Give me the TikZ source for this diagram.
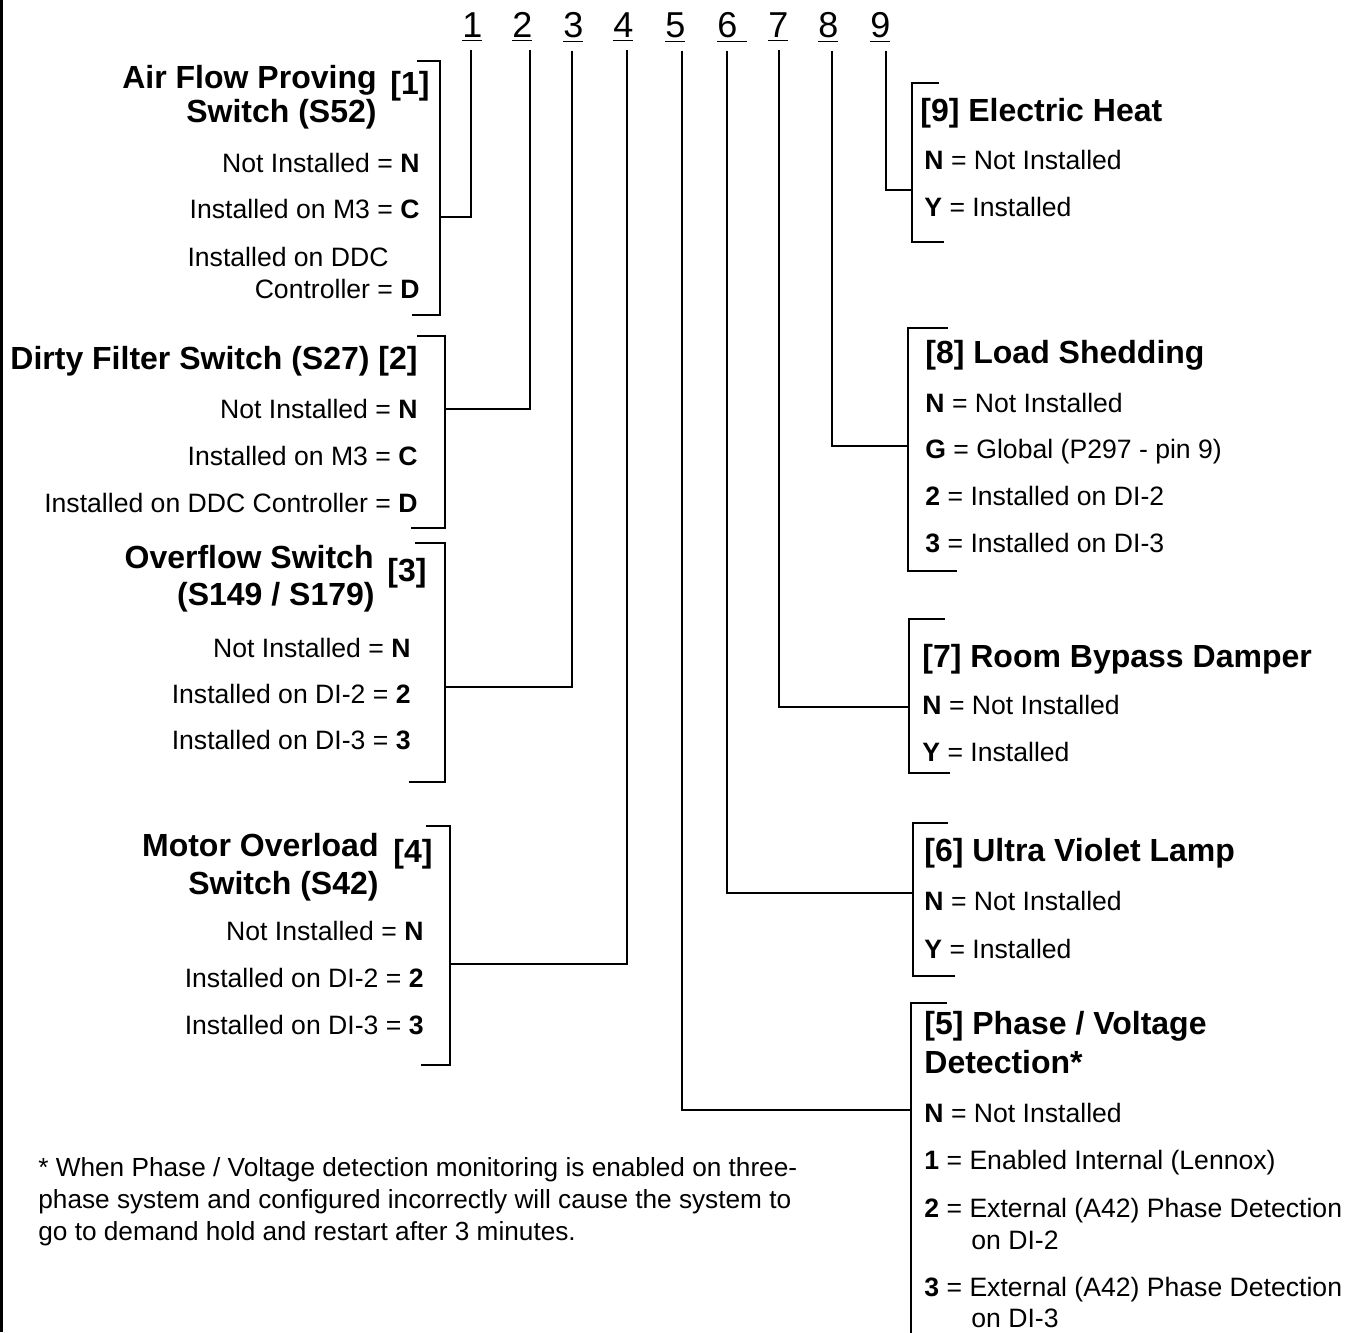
\documentclass[tikz,border=0pt]{standalone}
\usepackage{fontspec}
\setmainfont{Liberation Sans}
\tikzset{
  wire/.style={line width=1pt},
  digit/.style={font=\fontsize{18}{20}\selectfont, inner sep=0pt},
  heading/.style={font=\fontsize{16}{19}\selectfont\bfseries, inner sep=0pt},
  item/.style={font=\fontsize{13.3}{16}\selectfont, inner sep=0pt},
  note/.style={font=\fontsize{13.1}{16}\selectfont, inner sep=0pt},
}
\begin{document}
\begin{tikzpicture}[x=0.5pt,y=-0.5pt]
\useasboundingbox (0,0) rectangle (1358,1332);
\draw[line width=1.3pt] (1.5,0) -- (1.5,1332);

% model number positions
\foreach \n/\x in {1/462,2/512,3/563,4/613,5/665,7/768,8/818,9/870}
  \node[digit,anchor=base west] (d\n) at (\x,38) {\underline{\n}};
\node[digit,anchor=base west] (d6) at (717,38) {\underline{6\kern5pt}};

% [1] air flow
\node[heading,anchor=base east] (h1a) at (377,89) {Air Flow Proving};
\node[heading,anchor=base east] (h1b) at (377,123) {Switch (S52)};
\node[heading,anchor=base east] (tag1) at (430,95) {[1]};
\node[item,anchor=base east] (s1n) at (420,173) {Not Installed = \textbf{N}};
\node[item,anchor=base east] (s1c) at (420,219) {Installed on M3 = \textbf{C}};
\node[item,anchor=base east] (s1d) at (389,266) {Installed on DDC};
\node[item,anchor=base east] (s1e) at (420,298) {Controller = \textbf{D}};
\draw[wire] (417,61) -- (440,61) -- (440,315) -- (412,315);
\coordinate (j1) at (440,217);

% [2] dirty filter
\node[heading,anchor=base east] (h2) at (418,369) {Dirty Filter Switch (S27) [2]};
\node[item,anchor=base east] (s2n) at (418,418) {Not Installed = \textbf{N}};
\node[item,anchor=base east] (s2c) at (418,465) {Installed on M3 = \textbf{C}};
\node[item,anchor=base east] (s2d) at (418,512) {Installed on DDC Controller = \textbf{D}};
\draw[wire] (417,336) -- (445,336) -- (445,528) -- (411,528);
\coordinate (j2) at (445,409);

% [3] overflow
\node[heading,anchor=base east] (h3a) at (374,568) {Overflow Switch};
\node[heading,anchor=base east] (h3b) at (375,605) {(S149 / S179)};
\node[heading,anchor=base east] (tag3) at (427,581) {[3]};
\node[item,anchor=base east] (s3n) at (411,657) {Not Installed = \textbf{N}};
\node[item,anchor=base east] (s3b) at (411,703) {Installed on DI-2 = \textbf{2}};
\node[item,anchor=base east] (s3c) at (411,749) {Installed on DI-3 = \textbf{3}};
\draw[wire] (415,543) -- (445,543) -- (445,782) -- (409,782);
\coordinate (j3) at (445,687);

% [4] motor overload
\node[heading,anchor=base east] (h4a) at (379,856) {Motor Overload};
\node[heading,anchor=base east] (h4b) at (379,894) {Switch (S42)};
\node[heading,anchor=base east] (tag4) at (433,862) {[4]};
\node[item,anchor=base east] (s4n) at (424,940) {Not Installed = \textbf{N}};
\node[item,anchor=base east] (s4b) at (424,987) {Installed on DI-2 = \textbf{2}};
\node[item,anchor=base east] (s4c) at (424,1034) {Installed on DI-3 = \textbf{3}};
\draw[wire] (426,826) -- (450,826) -- (450,1065) -- (421,1065);
\coordinate (j4) at (450,964);

% footnote
\node[note,anchor=base west] (f1) at (38,1176) {* When Phase / Voltage detection monitoring is enabled on three-};
\node[note,anchor=base west] (f2) at (38,1208) {phase system and configured incorrectly will cause the system to};
\node[note,anchor=base west] (f3) at (38,1240) {go to demand hold and restart after 3 minutes.};

% [9] electric heat
\node[heading,anchor=base west] (h9) at (920,122) {[9] Electric Heat};
\node[item,anchor=base west] (s9n) at (924,170) {\textbf{N} = Not Installed};
\node[item,anchor=base west] (s9y) at (924,217) {\textbf{Y} = Installed};
\draw[wire] (939,83) -- (912,83) -- (912,242) -- (944,242);
\coordinate (j9) at (912,190);

% [8] load shedding
\node[heading,anchor=base west] (h8) at (925,363) {[8] Load Shedding};
\node[item,anchor=base west] (s8n) at (925,412) {\textbf{N} = Not Installed};
\node[item,anchor=base west] (s8g) at (925,458) {\textbf{G} = Global (P297 - pin 9)};
\node[item,anchor=base west] (s8b) at (925,505) {\textbf{2} = Installed on DI-2};
\node[item,anchor=base west] (s8c) at (925,552) {\textbf{3} = Installed on DI-3};
\draw[wire] (948,328) -- (908,328) -- (908,571) -- (957,571);
\coordinate (j8) at (908,446);

% [7] room bypass
\node[heading,anchor=base west] (h7) at (922,667) {[7] Room Bypass Damper};
\node[item,anchor=base west] (s7n) at (922,714) {\textbf{N} = Not Installed};
\node[item,anchor=base west] (s7y) at (922,761) {\textbf{Y} = Installed};
\draw[wire] (945,619) -- (909,619) -- (909,773) -- (950,773);
\coordinate (j7) at (909,707);

% [6] uv lamp
\node[heading,anchor=base west] (h6) at (924,861) {[6] Ultra Violet Lamp};
\node[item,anchor=base west] (s6n) at (924,910) {\textbf{N} = Not Installed};
\node[item,anchor=base west] (s6y) at (924,958) {\textbf{Y} = Installed};
\draw[wire] (948,823) -- (913,823) -- (913,976) -- (955,976);
\coordinate (j6) at (913,893);

% [5] phase / voltage
\node[heading,anchor=base west] (h5a) at (924,1034) {[5] Phase / Voltage};
\node[heading,anchor=base west] (h5b) at (924,1073) {Detection*};
\node[item,anchor=base west] (s5n) at (924,1122) {\textbf{N} = Not Installed};
\node[item,anchor=base west] (s5a) at (924,1169) {\textbf{1} = Enabled Internal (Lennox)};
\node[item,anchor=base west] (s5b) at (924,1217) {\textbf{2} = External (A42) Phase Detection};
\node[item,anchor=base west] (s5bb) at (971,1249) {on DI-2};
\node[item,anchor=base west] (s5c) at (924,1296) {\textbf{3} = External (A42) Phase Detection};
\node[item,anchor=base west] (s5cc) at (971,1327) {on DI-3};
\draw[wire] (947,1003) -- (911,1003) -- (911,1340);
\coordinate (j5) at (911,1110);

% connectors
\foreach \n/\dx in {1/-0.6,2/4,3/-0.5,4/2,5/3.5,6/-2.5,7/0.5,8/2,9/3}
  \draw[wire] ([xshift=\dx pt,yshift=-4pt]d\n.south) |- (j\n);
\end{tikzpicture}
\end{document}
